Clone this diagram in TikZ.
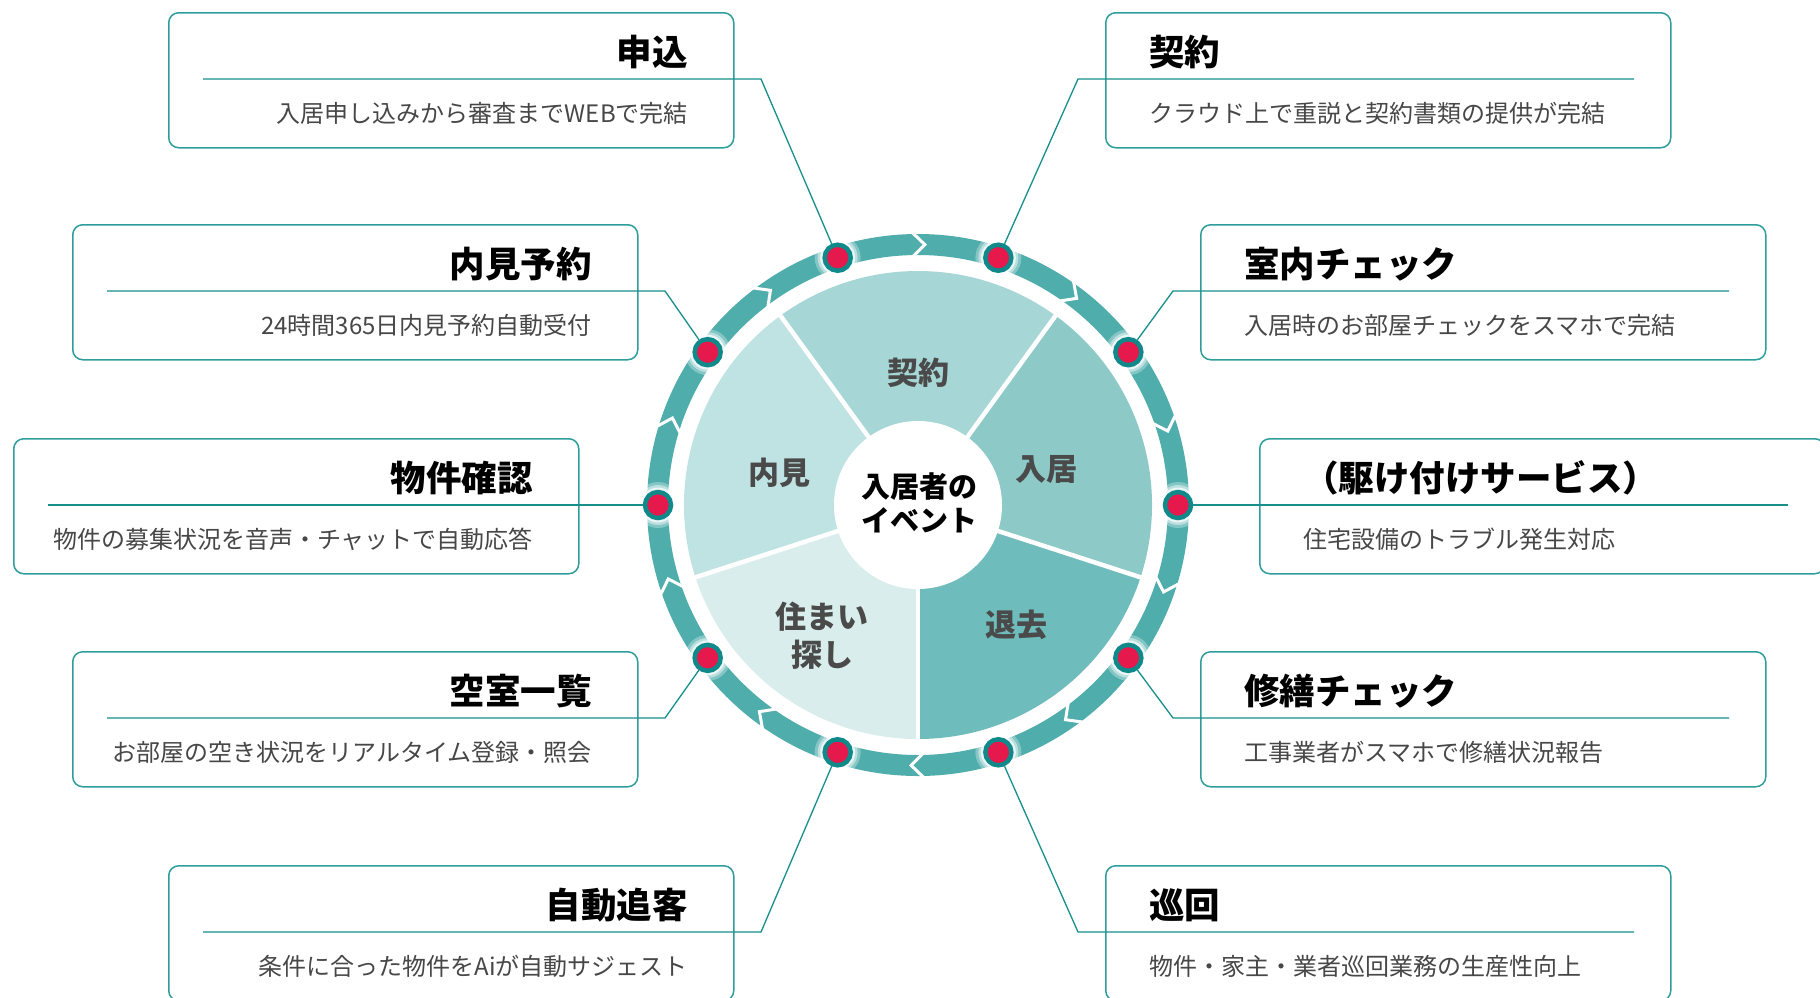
\documentclass[tikz,border=0pt]{standalone}
\usepackage{fontspec}
\newfontfamily\cjk{Noto Sans CJK JP}
\usetikzlibrary{calc}
\definecolor{ringc}{HTML}{4FADAC}
\definecolor{dotc}{HTML}{10898A}
\definecolor{redc}{HTML}{E5194B}
\definecolor{sa}{HTML}{A6D6D5}
\definecolor{sb}{HTML}{8CC9C7}
\definecolor{sc}{HTML}{6EBCBB}
\definecolor{sd}{HTML}{D8EDEC}
\definecolor{se}{HTML}{BFE3E2}
\definecolor{boxc}{HTML}{2E9E9C}
\definecolor{linec}{HTML}{178F8D}
\definecolor{descc}{HTML}{474747}
\definecolor{plabc}{HTML}{4A4A4A}
\tikzset{
  boxn/.style={draw=boxc, line width=1.5pt, rounded corners=10pt, minimum width=565pt, minimum height=135pt, inner sep=0pt, anchor=north west},
  ttl/.style={font=\cjk\bfseries\fontsize{35.5}{40}\selectfont, text=black, inner sep=0pt},
  dsc/.style={font=\cjk\fontsize{24}{28}\selectfont, text=descc, inner sep=0pt},
  lnk/.style={draw=linec, line width=1.3pt},
  dotn/.style={circle, fill=redc, draw=dotc, line width=4.5pt, minimum size=26pt, inner sep=0pt},
  plab/.style={font=\cjk\bfseries\fontsize{31}{36}\selectfont, text=plabc, inner sep=0pt, align=center},
  clab/.style={font=\cjk\bfseries\fontsize{29}{34}\selectfont, text=black, inner sep=0pt, align=center}
}
% left box: name, x, y, title, desc, dot
\newcommand\lbox[6]{%
  \node[boxn] (#1) at (#2,#3) {};
  \node[ttl, anchor=east] (#1t) at (#2+520,#3+40) {#4};
  \node[dsc, anchor=east] (#1d) at (#2+520,#3+101) {#5};
  \draw[lnk] (#2+35,#3+67) -- (#2+593,#3+67) -- (#6);
}
\newcommand\rbox[6]{%
  \node[boxn] (#1) at (#2,#3) {};
  \node[ttl, anchor=west] (#1t) at (#2+44,#3+40) {#4};
  \node[dsc, anchor=west] (#1d) at (#2+44,#3+101) {#5};
  \draw[lnk] (#2+529,#3+67) -- (#2-27,#3+67) -- (#6);
}
\begin{document}
\begin{tikzpicture}[x=1pt,y=-1pt]
\useasboundingbox (0,0) rectangle (1820,997);
\clip (0,0) rectangle (1820,997);
\fill[white] (0,0) rectangle (1820,997);
\coordinate (c) at (918,505);
\begin{scope}[shift={(918,505)}]
  % pie
  \fill[sa] (0,0) -- (-126:234) arc[start angle=-126, end angle=-54, radius=234] -- cycle;
  \fill[sb] (0,0) -- (-54:234) arc[start angle=-54, end angle=18, radius=234] -- cycle;
  \fill[sc] (0,0) -- (18:234) arc[start angle=18, end angle=90, radius=234] -- cycle;
  \fill[sd] (0,0) -- (90:234) arc[start angle=90, end angle=162, radius=234] -- cycle;
  \fill[se] (0,0) -- (162:234) arc[start angle=162, end angle=234, radius=234] -- cycle;
  \foreach \a in {-54,18,90,162,234} \draw[white, line width=4.5pt] (0,0) -- (\a:237);
  \fill[white] (0,0) circle (84);
  % ring
  \draw[ringc, line width=21pt] (0,0) circle (260.5);
  \foreach \a in {18,54,...,342}
    \draw[white, line width=3pt, line join=miter] (\a-1.3:273) -- (\a+1.5:260.5) -- (\a-1.3:248);
  % halos
  \foreach \a in {0,36,...,324}{
    \fill[white, opacity=0.3] (\a:260) circle (23);
    \fill[white, opacity=0.45] (\a:260) circle (20);
    \fill[white, opacity=0.7] (\a:260) circle (17.5);
  }
\end{scope}
% dots
\node[dotn] (d1) at ($(c)+(-108:260)$) {};
\node[dotn] (d2) at ($(c)+(-72:260)$) {};
\node[dotn] (d3) at ($(c)+(-144:260)$) {};
\node[dotn] (d4) at ($(c)+(-36:260)$) {};
\node[dotn] (d5) at ($(c)+(180:260)$) {};
\node[dotn] (d6) at ($(c)+(0:260)$) {};
\node[dotn] (d7) at ($(c)+(144:260)$) {};
\node[dotn] (d8) at ($(c)+(36:260)$) {};
\node[dotn] (d9) at ($(c)+(108:260)$) {};
\node[dotn] (d10) at ($(c)+(72:260)$) {};
% pie labels
\node[plab] (p1) at (918,373) {契約};
\node[plab] (p2) at (1046,469) {入居};
\node[plab] (p3) at (1016,625) {退去};
\node[plab, font=\cjk\bfseries\fontsize{31}{38}\selectfont] (p4) at (822,636) {住まい\\探し};
\node[plab] (p5) at (779,473) {内見};
\node[clab] (ctr) at (919,503) {入居者の\\イベント};
% boxes
\lbox{b1}{168}{12}{申込}{入居申し込みから審査までWEBで完結}{d1}
\rbox{b2}{1105}{12}{契約}{クラウド上で重説と契約書類の提供が完結}{d2}
\lbox{b3}{72}{224}{内見予約}{24時間365日内見予約自動受付}{d3}
\rbox{b4}{1200}{224}{室内チェック}{入居時のお部屋チェックをスマホで完結}{d4}
\lbox{b5}{13}{438}{物件確認}{物件の募集状況を音声・チャットで自動応答}{d5}
\rbox{b6}{1259}{438}{（駆け付けサービス）}{住宅設備のトラブル発生対応}{d6}
\lbox{b7}{72}{651}{空室一覧}{お部屋の空き状況をリアルタイム登録・照会}{d7}
\rbox{b8}{1200}{651}{修繕チェック}{工事業者がスマホで修繕状況報告}{d8}
\lbox{b9}{168}{865}{自動追客}{条件に合った物件をAiが自動サジェスト}{d9}
\rbox{b10}{1105}{865}{巡回}{物件・家主・業者巡回業務の生産性向上}{d10}
\end{tikzpicture}
\end{document}
